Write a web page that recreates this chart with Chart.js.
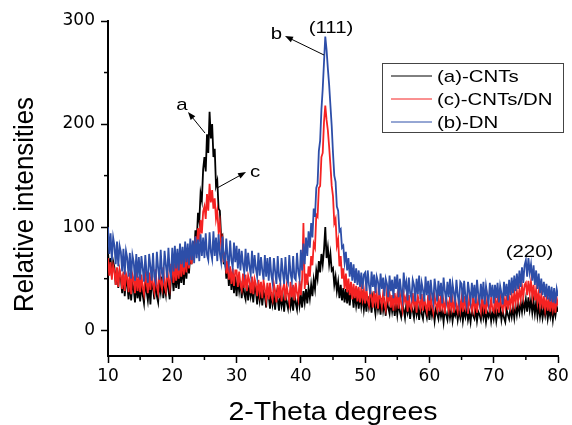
<!DOCTYPE html>
<html><head><meta charset="utf-8">
<script src="https://cdn.jsdelivr.net/npm/chart.js@4.4.1/dist/chart.umd.min.js"></script>
<style>html,body{margin:0;padding:0;background:#fff;}#wrap{width:572px;height:425px;}</style>
</head><body><div id="wrap"><canvas id="c" width="572" height="425"></canvas></div>
<script>
// 2-theta sampling grid (degrees)
const twoTheta = [
10,10.2,10.4,10.6,10.8,11,11.2,11.4,11.6,11.8,12,12.2,12.4,12.6,12.8,13,13.2,13.4,13.6,13.8,14,14.2,14.4,14.6,14.8,
15,15.2,15.4,15.6,15.8,16,16.2,16.4,16.6,16.8,17,17.2,17.4,17.6,17.8,18,18.2,18.4,18.6,18.8,19,19.2,19.4,19.6,19.8,
20,20.2,20.4,20.6,20.8,21,21.2,21.4,21.6,21.8,22,22.2,22.4,22.6,22.8,23,23.2,23.4,23.6,23.8,24,24.2,24.4,24.6,24.8,
25,25.2,25.4,25.6,25.8,26,26.2,26.4,26.6,26.8,27,27.2,27.4,27.6,27.8,28,28.2,28.4,28.6,28.8,29,29.2,29.4,29.6,29.8,
30,30.2,30.4,30.6,30.8,31,31.2,31.4,31.6,31.8,32,32.2,32.4,32.6,32.8,33,33.2,33.4,33.6,33.8,34,34.2,34.4,34.6,34.8,
35,35.2,35.4,35.6,35.8,36,36.2,36.4,36.6,36.8,37,37.2,37.4,37.6,37.8,38,38.2,38.4,38.6,38.8,39,39.2,39.4,39.6,39.8,
40,40.2,40.4,40.6,40.8,41,41.2,41.4,41.6,41.8,42,42.2,42.4,42.6,42.8,43,43.2,43.4,43.6,43.8,44,44.2,44.4,44.6,44.8,
45,45.2,45.4,45.6,45.8,46,46.2,46.4,46.6,46.8,47,47.2,47.4,47.6,47.8,48,48.2,48.4,48.6,48.8,49,49.2,49.4,49.6,49.8,
50,50.2,50.4,50.6,50.8,51,51.2,51.4,51.6,51.8,52,52.2,52.4,52.6,52.8,53,53.2,53.4,53.6,53.8,54,54.2,54.4,54.6,54.8,
55,55.2,55.4,55.6,55.8,56,56.2,56.4,56.6,56.8,57,57.2,57.4,57.6,57.8,58,58.2,58.4,58.6,58.8,59,59.2,59.4,59.6,59.8,
60,60.2,60.4,60.6,60.8,61,61.2,61.4,61.6,61.8,62,62.2,62.4,62.6,62.8,63,63.2,63.4,63.6,63.8,64,64.2,64.4,64.6,64.8,
65,65.2,65.4,65.6,65.8,66,66.2,66.4,66.6,66.8,67,67.2,67.4,67.6,67.8,68,68.2,68.4,68.6,68.8,69,69.2,69.4,69.6,69.8,
70,70.2,70.4,70.6,70.8,71,71.2,71.4,71.6,71.8,72,72.2,72.4,72.6,72.8,73,73.2,73.4,73.6,73.8,74,74.2,74.4,74.6,74.8,
75,75.2,75.4,75.6,75.8,76,76.2,76.4,76.6,76.8,77,77.2,77.4,77.6,77.8,78,78.2,78.4,78.6,78.8,79,79.2,79.4,79.6,79.8,
80];

// (a)-CNTs
const cnts = [
76,58,70,52,67,61,44,60,41,57,50,36,55,33,49,44,30,48,29,45,40,27,47,31,42,
28,45,34,26,47,38,29,44,25,48,41,30,50,33,27,46,37,52,31,44,35,54,39,30,51,
53,38,56,41,57,40,59,46,62,44,65,50,69,55,75,64,86,74,97,86,114,106,133,126,156,
168,154,190,172,212,186,200,168,176,140,145,118,116,90,92,64,72,50,62,43,58,39,54,36,52,
33,50,38,48,31,46,35,30,47,29,44,33,41,27,43,38,25,41,29,39,24,37,33,22,40,
34,21,37,25,33,20,36,30,19,35,24,32,18,34,27,21,36,23,31,19,35,26,20,37,24,
34,22,38,27,40,26,41,31,44,33,49,40,58,50,67,56,74,64,78,100,70,80,64,74,58,
60,44,52,38,47,31,44,29,41,27,40,26,39,24,37,35,22,36,24,34,21,35,23,33,20,
31,18,33,22,29,17,32,25,16,30,20,28,15,31,19,27,14,29,22,16,28,18,26,14,27,
15,27,18,13,26,20,12,25,17,24,11,23,19,12,25,15,22,10,24,16,11,23,18,12,22,
10,23,14,21,9,20,16,11,22,13,19,8,21,15,10,22,12,20,9,18,14,21,10,19,12,
21,9,19,13,22,10,17,8,20,14,11,21,9,18,15,10,22,12,19,8,17,13,20,9,18,
11,20,9,18,14,21,10,19,12,8,20,15,11,21,13,22,12,24,15,25,17,27,18,29,20,
30,18,32,20,29,17,28,16,27,14,24,13,22,12,21,14,23,11,20,13,22,10,21,14,23,
18];

// (c)-CNTs/DN
const cntsDn = [
70,53,66,49,63,58,44,61,42,59,53,40,57,38,55,51,37,56,35,54,49,36,57,38,52,
37,54,41,35,55,47,36,56,39,57,44,37,59,42,36,58,46,40,61,43,38,62,48,41,63,
62,46,65,48,66,50,68,52,70,54,72,56,76,60,79,64,85,70,91,78,99,86,107,94,115,
120,108,132,116,142,124,136,118,128,108,116,96,104,82,88,66,75,55,67,49,62,45,60,43,58,
58,42,57,44,39,55,41,54,38,53,48,36,52,35,50,45,33,49,36,47,31,48,40,30,46,
30,46,34,29,45,38,27,44,31,46,28,40,45,29,43,35,27,47,32,44,29,46,36,30,48,
34,50,104,40,55,44,62,52,72,63,84,80,112,110,138,140,168,172,202,218,204,194,178,160,140,
130,104,108,82,88,62,72,50,60,40,55,37,50,34,47,30,45,31,43,28,42,27,41,30,39,
26,40,29,24,39,33,22,38,27,36,21,37,31,23,36,26,20,37,28,35,22,34,19,36,25,
34,21,36,26,19,35,28,33,18,34,23,20,36,25,32,17,33,27,21,35,19,31,24,18,34,
19,32,24,17,33,26,20,31,18,34,22,29,16,32,25,19,33,21,30,17,31,23,18,32,20,
31,18,33,22,29,16,32,24,19,34,20,30,17,31,25,18,33,21,29,16,32,23,19,31,20,
18,32,21,30,17,33,24,19,31,22,34,20,32,23,35,24,37,26,38,28,40,30,43,32,44,
46,34,48,36,47,33,44,29,40,27,37,24,35,21,33,20,31,19,32,18,30,20,29,17,31,
24];

// (b)-DN
const dn = [
100,74,94,68,90,82,64,86,62,82,76,57,79,54,77,70,52,75,50,73,66,48,74,51,71,
49,72,60,47,73,56,46,74,62,48,75,52,47,76,60,49,78,55,50,77,63,51,80,58,52,
80,57,82,60,79,58,84,64,81,61,86,66,84,63,89,68,87,65,91,70,88,67,93,72,90,
70,94,73,68,95,76,69,96,72,90,67,93,74,66,91,70,64,89,71,63,87,68,61,85,66,
82,60,79,58,77,64,56,79,57,75,62,54,77,55,73,60,52,75,53,71,58,49,73,52,70,
48,71,54,46,70,57,45,72,52,47,70,56,45,71,50,46,73,55,48,72,51,49,75,57,50,
78,58,84,64,90,72,96,80,104,90,118,110,138,142,174,184,214,234,260,285,272,254,238,218,198,
172,150,144,120,116,96,98,80,82,66,76,58,70,52,66,48,64,46,60,44,58,42,56,40,54,
56,38,58,44,35,57,42,54,36,52,47,34,55,40,51,33,50,45,32,53,38,49,31,52,40,
54,32,50,38,30,56,41,47,29,51,36,31,49,44,28,50,35,53,30,46,39,28,52,34,48,
29,49,35,27,50,40,28,48,33,46,26,51,38,29,47,32,50,27,45,36,28,49,34,26,47,
45,27,48,33,25,47,37,28,46,31,44,26,49,35,27,45,30,47,25,43,34,26,46,32,44,
26,44,31,46,27,43,36,25,47,33,45,29,49,34,51,36,53,38,55,40,58,42,61,46,63,
68,52,70,56,64,48,63,44,58,40,55,36,50,34,47,32,45,30,43,28,42,27,41,26,40,
33];

const seriesLabels = ['(a)-CNTs', '(c)-CNTs/DN', '(b)-DN'];
const xTicks = [10, 20, 30, 40, 50, 60, 70, 80];
const yTicks = [0, 100, 200, 300];
const xTitle = '2-Theta degrees';
const yTitle = 'Relative intensities';
const peakLabels = ['(111)', '(220)'];
const curveLetters = ['a', 'c', 'b'];

// annotation anchors in data units (layout, not data)
const peakAnchors = [[44.69, 288.3], [75.57, 70.9]];
const letterAnchors = [
  {text: [21.51, 213.6], tail: [25.09, 191.3], head: [22.44, 211.7]},
  {text: [32.87, 148.5], tail: [26.96, 137.9], head: [31.47, 153.4]},
  {text: [36.21, 282.5], tail: [43.60, 267.0], head: [37.53, 285.4]}
];

const TXT = '"Liberation Sans", Arial, sans-serif';
function sText(ctx, str, x, y, size, sx, align) {
  ctx.save();
  ctx.translate(x, y);
  ctx.scale(sx, 1);
  ctx.font = size + 'px ' + TXT;
  ctx.textAlign = align;
  ctx.textBaseline = 'alphabetic';
  ctx.fillStyle = '#000';
  ctx.fillText(str, 0, 0);
  ctx.restore();
}

const decor = {
  id: 'decor',
  afterDraw(chart) {
    const ctx = chart.ctx, xs = chart.scales.x, ys = chart.scales.y, a = chart.chartArea;
    ctx.save();
    ctx.strokeStyle = '#000'; ctx.lineWidth = 1.5;
    for (let i = 0; i < xTicks.length - 1; i++) {
      const px = xs.getPixelForValue((xTicks[i] + xTicks[i + 1]) / 2);
      ctx.beginPath(); ctx.moveTo(px, a.bottom); ctx.lineTo(px, a.bottom + 4); ctx.stroke();
    }
    for (let i = 0; i < yTicks.length - 1; i++) {
      const py = ys.getPixelForValue((yTicks[i] + yTicks[i + 1]) / 2);
      ctx.beginPath(); ctx.moveTo(a.left, py); ctx.lineTo(a.left - 4, py); ctx.stroke();
    }
    sText(ctx, xTitle, (a.left + a.right) / 2, 420, 25, 1.14, 'center');
    ctx.save();
    ctx.translate(33, 204.5);
    ctx.rotate(-Math.PI / 2);
    sText(ctx, yTitle, 0, 0, 27, 0.955, 'center');
    ctx.restore();
    peakLabels.forEach((t, i) => {
      sText(ctx, t, xs.getPixelForValue(peakAnchors[i][0]), ys.getPixelForValue(peakAnchors[i][1]), 17, 1.2, 'center');
    });
    ctx.strokeStyle = '#000'; ctx.fillStyle = '#000'; ctx.lineWidth = 1;
    curveLetters.forEach((t, i) => {
      const an = letterAnchors[i];
      sText(ctx, t, xs.getPixelForValue(an.text[0]), ys.getPixelForValue(an.text[1]), 17, 1.2, 'center');
      const x1 = xs.getPixelForValue(an.tail[0]), y1 = ys.getPixelForValue(an.tail[1]);
      const x2 = xs.getPixelForValue(an.head[0]), y2 = ys.getPixelForValue(an.head[1]);
      const ang = Math.atan2(y2 - y1, x2 - x1);
      ctx.beginPath(); ctx.moveTo(x1, y1); ctx.lineTo(x2 - 5 * Math.cos(ang), y2 - 5 * Math.sin(ang)); ctx.stroke();
      ctx.beginPath();
      ctx.moveTo(x2, y2);
      ctx.lineTo(x2 - 8 * Math.cos(ang) + 3 * Math.sin(ang), y2 - 8 * Math.sin(ang) - 3 * Math.cos(ang));
      ctx.lineTo(x2 - 8 * Math.cos(ang) - 3 * Math.sin(ang), y2 - 8 * Math.sin(ang) + 3 * Math.cos(ang));
      ctx.closePath(); ctx.fill();
    });
    ctx.strokeStyle = '#444'; ctx.lineWidth = 1;
    ctx.strokeRect(382.5, 63.5, 181, 69);
    const rowsY = [76, 99, 122];
    chart.data.datasets.forEach((ds, i) => {
      ctx.strokeStyle = ds.borderColor; ctx.lineWidth = 1;
      ctx.beginPath(); ctx.moveTo(391, rowsY[i]); ctx.lineTo(432, rowsY[i]); ctx.stroke();
      sText(ctx, ds.label, 437, rowsY[i] + 6, 17, 1.2, 'left');
    });
    ctx.restore();
  }
};

const mk = arr => arr.map((y, i) => ({x: twoTheta[i], y: y}));
const tickFont = {family: '"DejaVu Sans", sans-serif', size: 17};

new Chart(document.getElementById('c'), {
  type: 'line',
  data: {
    datasets: [
      {label: seriesLabels[0], data: mk(cnts), borderColor: '#000000', order: 3},
      {label: seriesLabels[1], data: mk(cntsDn), borderColor: '#f52222', order: 2},
      {label: seriesLabels[2], data: mk(dn), borderColor: '#2d4ea8', order: 1}
    ]
  },
  options: {
    responsive: false,
    animation: false,
    elements: {line: {borderWidth: 1.8, tension: 0}, point: {radius: 0}},
    layout: {padding: {left: 0, right: 14, top: 21, bottom: 0}},
    plugins: {legend: {display: false}, tooltip: {enabled: false}},
    scales: {
      x: {
        type: 'linear', min: 10, max: 80,
        afterBuildTicks: s => { s.ticks = xTicks.map(v => ({value: v})); },
        afterFit: s => { s.height = 69; },
        ticks: {font: tickFont, color: '#000', padding: 3, maxRotation: 0, autoSkip: false},
        grid: {drawOnChartArea: false, drawTicks: true, tickLength: 7, tickWidth: 1.5, tickColor: '#000'},
        border: {display: true, color: '#000', width: 2}
      },
      y: {
        type: 'linear', min: -25, max: 300,
        afterBuildTicks: s => { s.ticks = yTicks.map(v => ({value: v})); },
        afterFit: s => { s.width = 108; },
        ticks: {font: tickFont, color: '#000', padding: 6},
        grid: {drawOnChartArea: false, drawTicks: true, tickLength: 7, tickWidth: 1.5, tickColor: '#000'},
        border: {display: true, color: '#000', width: 2}
      }
    }
  },
  plugins: [decor]
});
</script>
</body></html>
